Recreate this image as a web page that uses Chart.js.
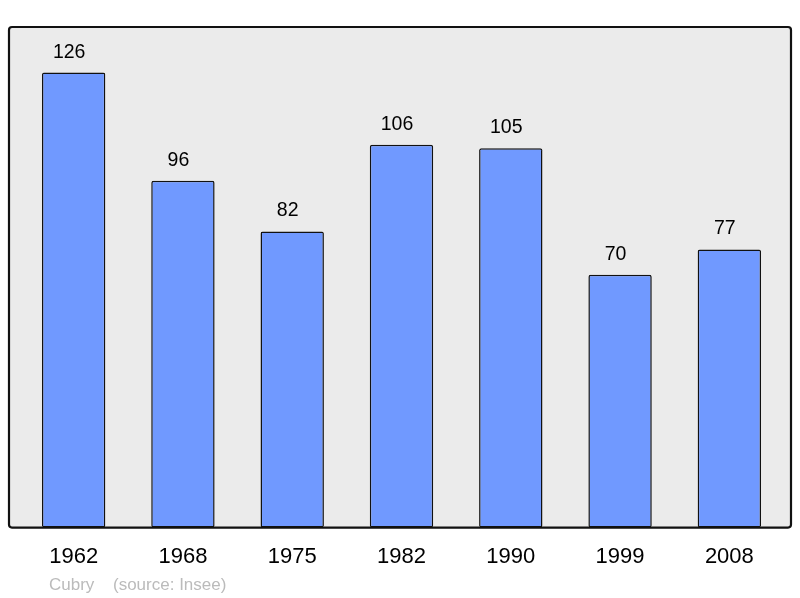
<!DOCTYPE html>
<html>
<head>
<meta charset="utf-8">
<script src="https://cdn.jsdelivr.net/npm/chart.js@4"></script>
<style>
  html, body { margin: 0; padding: 0; background: #fff; }
  #wrap { width: 800px; height: 598px; }
</style>
</head>
<body>
<div id="wrap"><canvas id="pop"></canvas></div>
<script>
// -------- Data --------
const years = ["1962", "1968", "1975", "1982", "1990", "1999", "2008"];
const population = [126, 96, 82, 106, 105, 70, 77];
const placeName = "Cubry";
const sourceText = "(source: Insee)";

const FONT = "'Liberation Sans', Arial, sans-serif";

// frame + value labels + source line
const decor = {
    id: "decor",
    beforeDatasetsDraw(chart) {
        const { ctx, chartArea: a } = chart;
        const l = a.left - 10, r = a.right + 7, t = a.top, b = a.bottom;
        ctx.save();
        ctx.beginPath();
        ctx.roundRect(l, t, r - l, b - t, 3);
        ctx.fillStyle = "#ebebeb";
        ctx.fill();
        ctx.lineWidth = 2.2;
        ctx.strokeStyle = "#111";
        ctx.stroke();
        ctx.restore();
    },
    afterDatasetsDraw(chart) {
        const { ctx } = chart;
        const meta = chart.getDatasetMeta(0);
        ctx.save();
        ctx.font = "19.5px " + FONT;
        ctx.fillStyle = "#000";
        ctx.textAlign = "center";
        ctx.textBaseline = "alphabetic";
        meta.data.forEach((bar, i) => {
            ctx.fillText(String(population[i]), bar.x - 4.5, bar.y - 15);
        });
        ctx.font = "17px " + FONT;
        ctx.fillStyle = "#bbbbbb";
        ctx.textAlign = "left";
        ctx.fillText(placeName, 49, 590);
        ctx.fillText(sourceText, 113, 590);
        ctx.restore();
    }
};

new Chart(document.getElementById("pop"), {
    type: "bar",
    data: {
        labels: years,
        datasets: [{
            data: population,
            backgroundColor: "#7099ff",
            borderColor: "#111",
            borderWidth: 1.5,
            borderRadius: 2,
            borderSkipped: false,
            categoryPercentage: 1,
            barPercentage: 0.58
        }]
    },
    options: {
        responsive: true,
        maintainAspectRatio: false,
        animation: false,
        layout: { padding: { left: 19, right: 16, top: 27, bottom: 12 } },
        plugins: { legend: { display: false }, tooltip: { enabled: false } },
        scales: {
            x: {
                grid: { display: false, drawTicks: false },
                border: { display: false },
                ticks: { color: "#000", font: { family: FONT, size: 22 }, padding: 16 }
            },
            y: {
                display: false,
                min: 0,
                max: 138.6
            }
        }
    },
    plugins: [decor]
});
</script>
</body>
</html>
